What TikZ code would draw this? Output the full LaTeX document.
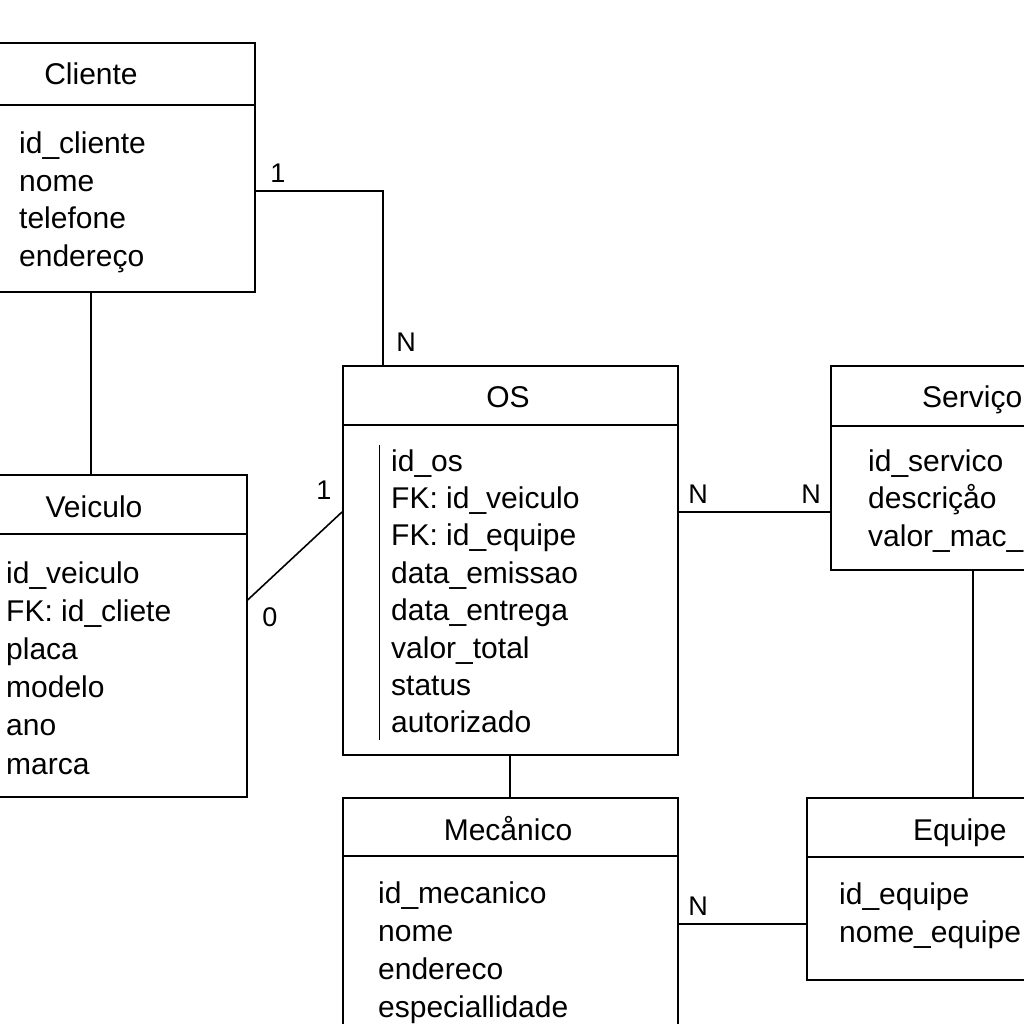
\documentclass[tikz,border=0pt]{standalone}
\usepackage{fontspec}
\setmainfont{Liberation Sans}
\begin{document}
\begin{tikzpicture}[x=1pt,y=-1pt,
  box/.style={draw,line width=1.6pt,rectangle,inner sep=0pt,anchor=north west},
  divl/.style={line width=1.6pt},
  conn/.style={line width=1.6pt},
  txt/.style={inner sep=0pt,anchor=base west,font=\fontsize{30}{36}\selectfont},
  ttl/.style={inner sep=0pt,anchor=base,font=\fontsize{30}{36}\selectfont},
  lbl/.style={inner sep=0pt,anchor=center,font=\fontsize{27}{32}\selectfont}]
\useasboundingbox (0,0) rectangle (1024,1024);
\fill[white] (0,0) rectangle (1024,1024);
% boxes
\node[box,minimum width=259pt,minimum height=249pt] (cliente) at (-5,42) {};
\node[box,minimum width=251pt,minimum height=322pt] (veiculo) at (-5,474) {};
\node[box,minimum width=335pt,minimum height=389pt] (os) at (342,365) {};
\node[box,minimum width=220pt,minimum height=204pt] (servico) at (830,365) {};
\node[box,minimum width=335pt,minimum height=243pt] (mecanico) at (342,797) {};
\node[box,minimum width=234pt,minimum height=182pt] (equipe) at (806,797) {};
% dividers
\draw[divl] (cliente.west |- 0,105) -- (cliente.east |- 0,105);
\draw[divl] (veiculo.west |- 0,534) -- (veiculo.east |- 0,534);
\draw[divl] (os.west |- 0,425) -- (os.east |- 0,425);
\draw[divl] (servico.west |- 0,426) -- (servico.east |- 0,426);
\draw[divl] (mecanico.west |- 0,856) -- (mecanico.east |- 0,856);
\draw[divl] (equipe.west |- 0,857) -- (equipe.east |- 0,857);
\draw[line width=1pt] (379,445) -- (379,740);
% titles
\node[ttl] (tcliente) at (91,85) {Cliente};
\node[ttl] (tveiculo) at (94,517) {Veiculo};
\node[ttl] (tos) at (508,407) {OS};
\node[txt] (tservico) at (922,407) {Serviço};
\node[ttl] (tmecanico) at (508,840) {Mecånico};
\node[txt] (tequipe) at (913,840) {Equipe};
% attributes
\foreach \t [count=\i] in {id\_cliente,nome,telefone,endereço}
  \node[txt] (ac\i) at (19,{154+37.5*(\i-1)}) {\t};
\foreach \t [count=\i] in {id\_veiculo,FK: id\_cliete,placa,modelo,ano,marca}
  \node[txt] (av\i) at (6,{583+38.2*(\i-1)}) {\t};
\foreach \t [count=\i] in {id\_os,FK: id\_veiculo,FK: id\_equipe,data\_emissao,data\_entrega,valor\_total,status,autorizado}
  \node[txt] (ao\i) at (391,{471+37.4*(\i-1)}) {\t};
\foreach \t [count=\i] in {id\_servico,descriçåo,valor\_mac\_obra}
  \node[txt] (as\i) at (868,{471+37.5*(\i-1)}) {\t};
\foreach \t [count=\i] in {id\_mecanico,nome,endereco,especiallidade}
  \node[txt] (am\i) at (378,{903+38*(\i-1)}) {\t};
\foreach \t [count=\i] in {id\_equipe,nome\_equipe}
  \node[txt] (ae\i) at (839,{904+38*(\i-1)}) {\t};
% connectors
\draw[conn] (cliente.east |- 0,191) -| (os.north -| 383,0);
\draw[conn] (cliente.south -| 91,0) -- (veiculo.north -| 91,0);
\draw[conn] (veiculo.east |- 0,600) -- (os.west |- 0,512);
\draw[conn] (os.east |- 0,512) -- (servico.west |- 0,512);
\draw[conn] (os.south -| 510,0) -- (mecanico.north -| 510,0);
\draw[conn] (servico.south -| 973,0) -- (equipe.north -| 973,0);
\draw[conn] (mecanico.east |- 0,924) -- (equipe.west |- 0,924);
% labels
\node[lbl] (l1) at (278,173) {1};
\node[lbl] (l2) at (406,342) {N};
\node[lbl] (l3) at (324,490) {1};
\node[lbl] (l4) at (270,617) {0};
\node[lbl] (l5) at (698,494) {N};
\node[lbl] (l6) at (811,494) {N};
\node[lbl] (l7) at (698,906) {N};
\end{tikzpicture}
\end{document}
